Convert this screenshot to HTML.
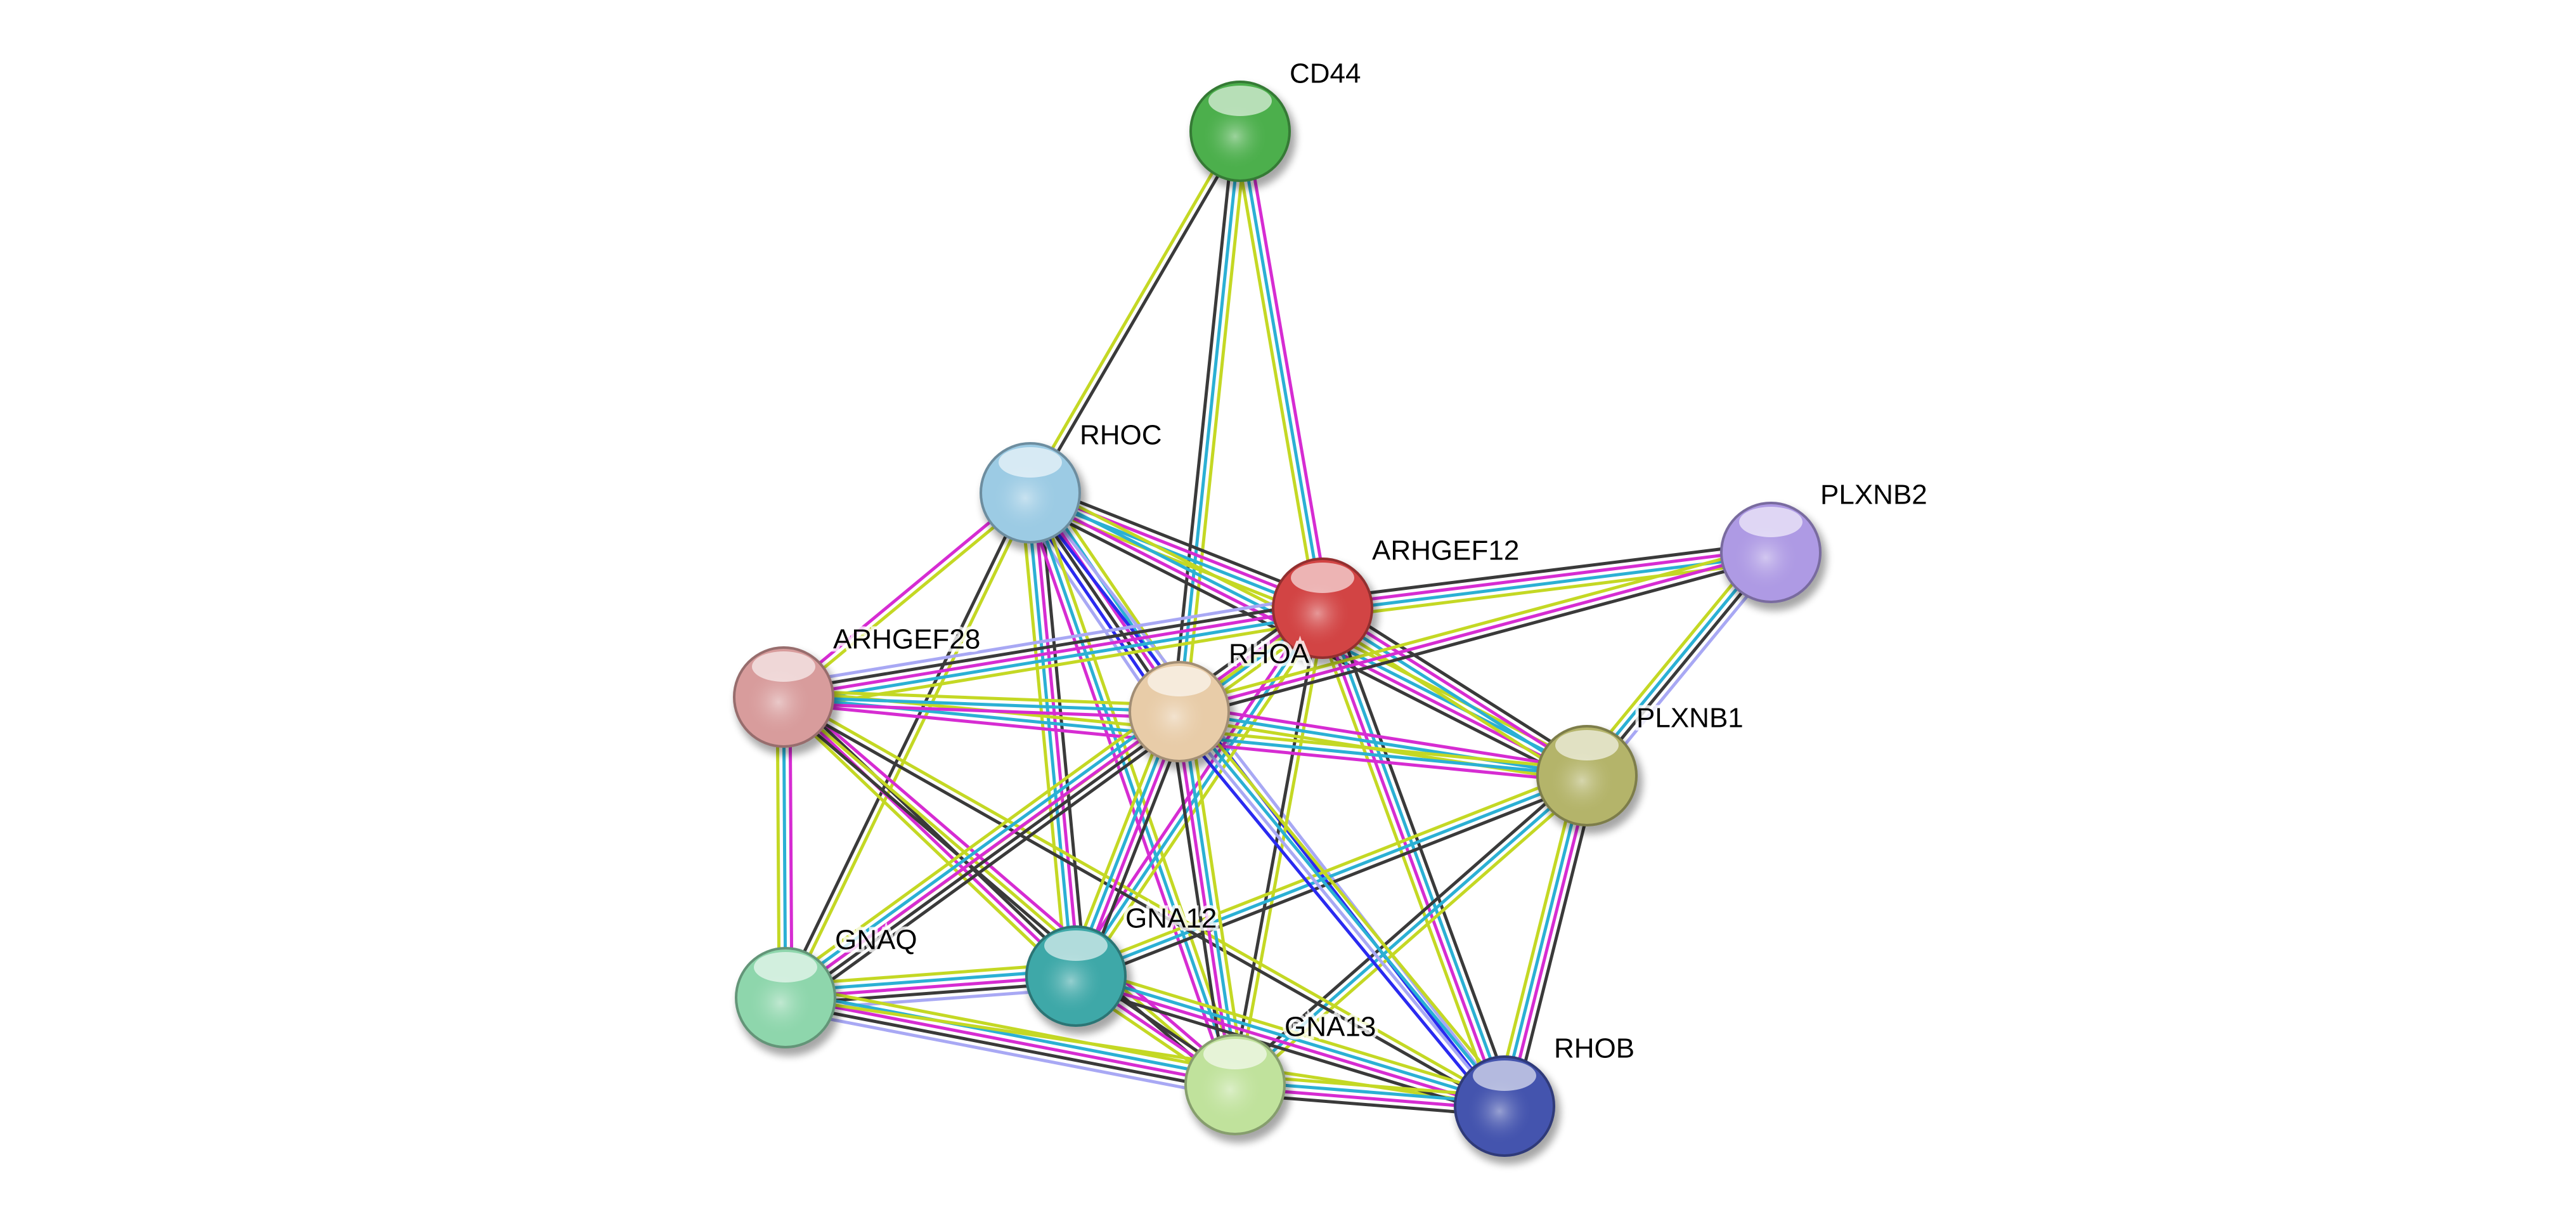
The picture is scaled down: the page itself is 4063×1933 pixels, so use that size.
<!DOCTYPE html>
<html><head><meta charset="utf-8"><style>
html,body{margin:0;padding:0;background:#fff;}
svg{display:block;}
text{font-family:"Liberation Sans",sans-serif;font-size:44px;fill:#000;}
</style></head><body>
<svg id="s" width="4063" height="1933" viewBox="0 0 4063 1933" xmlns="http://www.w3.org/2000/svg">
<defs>
<filter id="sh" x="-30%" y="-30%" width="160%" height="160%"><feGaussianBlur stdDeviation="6"/></filter>
</defs>
<g id="edges"></g><g id="nodes"></g><g id="labels"></g>
</svg>
<script>
var N={
CD44:[1956,207,"#4caf4c","CD44"],
RHOC:[1625,777,"#9ccbe4","RHOC"],
ARHGEF12:[2086,959,"#d24444","ARHGEF12"],
PLXNB2:[2793,871,"#ae9ae4","PLXNB2"],
ARHGEF28:[1236,1099,"#d89c9c","ARHGEF28"],
RHOA:[1860,1122,"#e8cca8","RHOA"],
PLXNB1:[2503,1223,"#b4b46a","PLXNB1"],
GNAQ:[1239,1573,"#8ed6ac","GNAQ"],
GNA12:[1697,1539,"#3ea8a8","GNA12"],
GNA13:[1948,1710,"#c0e29c","GNA13"],
RHOB:[2373,1744,"#4454ae","RHOB"]};
var C={y:"#c4d824",c:"#2bb0d4",m:"#d62cd2",k:"#3a3a3a",l:"#a8a8f4",b:"#2a2af0"};
var E=[
["CD44","RHOC","ky"],["CD44","RHOA","yck"],["CD44","ARHGEF12","mcy"],
["RHOC","ARHGEF12","kmcy"],["RHOC","ARHGEF28","ym"],["RHOC","GNAQ","yk"],
["RHOC","GNA12","kmcy"],["RHOC","RHOA","ycmkbl"],["RHOC","GNA13","ycm"],
["RHOC","PLXNB1","ycmk"],["RHOC","RHOB","lb"],
["ARHGEF12","PLXNB2","kmcy"],["ARHGEF12","PLXNB1","kmcy"],["ARHGEF12","ARHGEF28","ycmkl"],
["ARHGEF12","RHOA","ycmk"],["ARHGEF12","GNA12","ycm"],["ARHGEF12","GNA13","yk"],
["ARHGEF12","RHOB","kcmy"],["ARHGEF12","GNAQ","y"],
["PLXNB2","PLXNB1","lkcy"],["PLXNB2","RHOA","kmy"],
["PLXNB1","RHOA","ycm"],["PLXNB1","ARHGEF28","mcy"],["PLXNB1","GNA12","kcy"],
["PLXNB1","GNA13","yck"],["PLXNB1","RHOB","kmcy"],
["ARHGEF28","RHOA","ycm"],["ARHGEF28","GNAQ","mcy"],["ARHGEF28","GNA12","kmy"],
["ARHGEF28","GNA13","myk"],["ARHGEF28","RHOB","yk"],
["RHOA","GNAQ","kkmcy"],["RHOA","GNA12","kmcy"],["RHOA","GNA13","ycmk"],["RHOA","RHOB","yclb"],
["GNAQ","GNA12","ycmkl"],["GNAQ","GNA13","ycmkl"],["GNAQ","RHOB","y"],
["GNA12","GNA13","kmy"],["GNA12","RHOB","ycmk"],["GNA13","RHOB","ycmk"]];
var NS="http://www.w3.org/2000/svg";
function el(t,a,p){var e=document.createElementNS(NS,t);for(var k in a)e.setAttribute(k,a[k]);p.appendChild(e);return e;}
var eg=document.getElementById("edges"),ng=document.getElementById("nodes"),lg=document.getElementById("labels"),defs=document.querySelector("defs");
E.forEach(function(e){var a=N[e[0]],b=N[e[1]];var dx=b[0]-a[0],dy=b[1]-a[1],L=Math.hypot(dx,dy);var px=-dy/L,py=dx/L;var n=e[2].length,sp=10;
for(var i=0;i<n;i++){var o=(i-(n-1)/2)*sp;el("line",{x1:a[0]+px*o,y1:a[1]+py*o,x2:b[0]+px*o,y2:b[1]+py*o,stroke:C[e[2][i]],"stroke-width":5},eg);}});
var i=0;
for(var k in N){var n=N[k],id="g"+(i++);
var g=el("radialGradient",{id:id,cx:"0.45",cy:"0.55",r:"0.6"},defs);
el("stop",{offset:"0","stop-color":"#ffffff","stop-opacity":"0.45"},g);
el("stop",{offset:"0.55","stop-color":n[2],"stop-opacity":"0"},g);
el("circle",{cx:n[0]+6,cy:n[1]+10,r:82,fill:"#000",opacity:0.35,filter:"url(#sh)"},ng);
el("circle",{cx:n[0],cy:n[1],r:80,fill:n[2]},ng);
el("circle",{cx:n[0],cy:n[1],r:80,fill:"url(#"+id+")"},ng);
el("circle",{cx:n[0],cy:n[1],r:78,fill:"none",stroke:"#000","stroke-opacity":0.3,"stroke-width":4},ng);
el("ellipse",{cx:n[0],cy:n[1]-48,rx:50,ry:24,fill:"#fff",opacity:0.6},ng);
var tx=n[0]+78,ty=n[1]-88;
var t1=el("text",{x:tx,y:ty,"dominant-baseline":"middle",fill:"#fff",stroke:"#fff","stroke-width":10,opacity:0.8},lg);t1.textContent=n[3];
var t=el("text",{x:tx,y:ty,"dominant-baseline":"middle"},lg);t.textContent=n[3];}
</script>
</body></html>
